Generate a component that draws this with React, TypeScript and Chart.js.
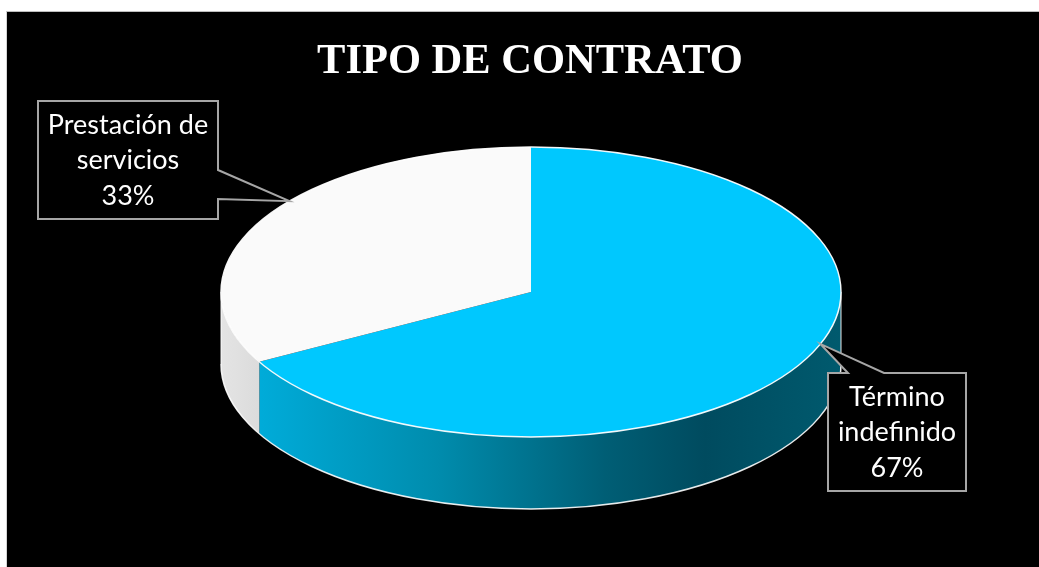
import React, { useEffect, useRef } from 'react';
import { Chart, registerables } from 'chart.js';

Chart.register(...registerables);

// ---- data ----
const TITLE = 'TIPO DE CONTRATO';
const CATEGORIES = ['Término indefinido', 'Prestación de servicios'];
const VALUES = [67, 33];

// ---- styles / layout ----
const TOP_COLORS = ['#00C8FE', '#FAFAFA'];
const SIDE_STOPS: [number, string][][] = [
  [
    [0, '#00B2E2'],
    [0.35, '#008CAD'],
    [0.62, '#005E75'],
    [0.78, '#004B5F'],
    [1, '#005A6E'],
  ],
  [
    [0, '#E4E4E4'],
    [0.1, '#D6D6D6'],
    [1, '#D0D0D0'],
  ],
];
const DEPTH = 72;
const TITLE_FONT = 'bold 42.5px "Liberation Serif"';
const LABEL_FONT = '27px Lato';
const LABEL_LINE = 35.5;
const LABEL_LAYOUT = [
  { x: 828, y: 373, w: 138, h: 118, side: 'top', o0: 20, o1: 56, nudge: -9.6 },
  { x: 38, y: 101, w: 180, h: 118, side: 'right', o0: 69, o1: 98, nudge: 8.2 },
];

function geom(chart: any) {
  const ca = chart.chartArea;
  return {
    ca,
    cx: (ca.left + ca.right) / 2,
    cy: (ca.top + ca.bottom) / 2,
    RX: ca.width / 2,
    RY: ca.height / 2,
  };
}

const pie3d = {
  id: 'pie3d',
  beforeDatasetsDraw(chart: any) {
    const ctx: CanvasRenderingContext2D = chart.ctx;
    const { ca, cx, cy, RX, RY } = geom(chart);
    const meta = chart.getDatasetMeta(0);
    meta.data.forEach((arc: any, i: number) => {
      const { startAngle, endAngle } = arc.getProps(['startAngle', 'endAngle'], true);
      for (const off of [-2 * Math.PI, 0, 2 * Math.PI]) {
        const a0 = Math.max(startAngle, off);
        const a1 = Math.min(endAngle, off + Math.PI);
        if (a1 <= a0) continue;
        ctx.beginPath();
        ctx.ellipse(cx, cy, RX, RY, 0, a0, a1, false);
        ctx.ellipse(cx, cy + DEPTH, RX, RY, 0, a1, a0, true);
        ctx.closePath();
        const g = ctx.createLinearGradient(ca.left, 0, ca.right, 0);
        SIDE_STOPS[i % SIDE_STOPS.length].forEach(([p, c]) => g.addColorStop(p, c));
        ctx.fillStyle = g;
        ctx.fill();
      }
    });
    // side outlines
    ctx.save();
    ctx.strokeStyle = 'rgba(255,255,255,0.9)';
    ctx.lineWidth = 1.5;
    ctx.beginPath();
    ctx.ellipse(cx, cy + DEPTH, RX, RY, 0, 0, Math.PI, false);
    ctx.stroke();
    ctx.lineWidth = 1;
    ctx.beginPath();
    ctx.moveTo(cx + RX, cy);
    ctx.lineTo(cx + RX, cy + DEPTH);
    ctx.moveTo(cx - RX, cy);
    ctx.lineTo(cx - RX, cy + DEPTH);
    ctx.stroke();
    ctx.restore();

    const first = meta.data[0];
    const r = first.outerRadius;
    ctx.save();
    ctx.translate(cx, cy);
    ctx.scale(RX / r, RY / r);
    ctx.translate(-first.x, -first.y);
  },
  afterDatasetsDraw(chart: any) {
    const ctx: CanvasRenderingContext2D = chart.ctx;
    ctx.restore();
    const { cx, cy, RX, RY } = geom(chart);
    ctx.save();
    ctx.strokeStyle = 'rgba(255,255,255,0.95)';
    ctx.lineWidth = 1.5;
    ctx.beginPath();
    ctx.ellipse(cx, cy, RX, RY, 0, 0, Math.PI * 2);
    ctx.stroke();
    ctx.restore();
  },
  afterDraw(chart: any) {
    const ctx: CanvasRenderingContext2D = chart.ctx;
    const { cx, cy, RX, RY } = geom(chart);
    // title
    ctx.save();
    ctx.fillStyle = '#FFFFFF';
    ctx.font = TITLE_FONT;
    ctx.textAlign = 'center';
    ctx.textBaseline = 'alphabetic';
    ctx.fillText(TITLE, cx - 1, 73);
    ctx.restore();

    const total = VALUES.reduce((a, b) => a + b, 0);
    const meta = chart.getDatasetMeta(0);
    meta.data.forEach((arc: any, i: number) => {
      const L = LABEL_LAYOUT[i];
      const { startAngle, endAngle } = arc.getProps(['startAngle', 'endAngle'], true);
      const mid = (startAngle + endAngle) / 2 + (L.nudge * Math.PI) / 180;
      const tx = cx + RX * Math.cos(mid);
      const ty = cy + RY * Math.sin(mid);

      ctx.save();
      ctx.beginPath();
      if (L.side === 'top') {
        ctx.moveTo(L.x, L.y);
        ctx.lineTo(L.x + L.o0, L.y);
        ctx.lineTo(tx, ty);
        ctx.lineTo(L.x + L.o1, L.y);
        ctx.lineTo(L.x + L.w, L.y);
        ctx.lineTo(L.x + L.w, L.y + L.h);
        ctx.lineTo(L.x, L.y + L.h);
      } else {
        ctx.moveTo(L.x, L.y);
        ctx.lineTo(L.x + L.w, L.y);
        ctx.lineTo(L.x + L.w, L.y + L.o0);
        ctx.lineTo(tx, ty);
        ctx.lineTo(L.x + L.w, L.y + L.o1);
        ctx.lineTo(L.x + L.w, L.y + L.h);
        ctx.lineTo(L.x, L.y + L.h);
      }
      ctx.closePath();
      ctx.fillStyle = '#000000';
      ctx.fill();
      ctx.strokeStyle = '#A6A6A6';
      ctx.lineWidth = 2;
      ctx.stroke();

      ctx.font = LABEL_FONT;
      ctx.fillStyle = '#FFFFFF';
      ctx.textAlign = 'center';
      ctx.textBaseline = 'alphabetic';
      const words = CATEGORIES[i].split(' ');
      const lines: string[] = [];
      let cur = '';
      for (const w of words) {
        const test = cur ? cur + ' ' + w : w;
        if (cur && ctx.measureText(test).width > L.w - 10) {
          lines.push(cur);
          cur = w;
        } else cur = test;
      }
      if (cur) lines.push(cur);
      lines.push(Math.round((VALUES[i] / total) * 100) + '%');
      const blockH = (lines.length - 1) * LABEL_LINE;
      const firstBase = L.y + L.h / 2 - blockH / 2 + 9;
      lines.forEach((t, k) => ctx.fillText(t, L.x + L.w / 2, firstBase + k * LABEL_LINE));
      ctx.restore();
    });
  },
};

export default function App() {
  const ref = useRef<HTMLCanvasElement>(null);
  useEffect(() => {
    if (!ref.current) return;
    const chart = new Chart(ref.current, {
      type: 'pie',
      data: {
        labels: CATEGORIES,
        datasets: [
          {
            data: VALUES,
            backgroundColor: TOP_COLORS,
            borderWidth: 0,
            clip: false,
          } as any,
        ],
      },
      options: {
        responsive: false,
        animation: false,
        events: [],
        layout: { padding: { left: 221, right: 198, top: 147, bottom: 130 } },
        plugins: {
          legend: { display: false },
          tooltip: { enabled: false },
          title: { display: false },
        },
      },
      plugins: [pie3d],
    });
    return () => chart.destroy();
  }, []);
  return (
    <div
      style={{
        position: 'fixed',
        left: 0,
        top: 0,
        width: '100vw',
        height: '100vh',
        minWidth: 1039,
        minHeight: 567,
        background: '#FFFFFF',
        overflow: 'hidden',
      }}
    >
      <div
        style={{
          position: 'absolute',
          left: 6,
          top: 11,
          width: 2000,
          height: 1000,
          background: '#000000',
          borderTop: '1px solid #BDBDBD',
          borderLeft: '1px solid #D4D4D4',
        }}
      />
      <canvas
        ref={ref}
        width={1039}
        height={567}
        style={{ position: 'absolute', left: 0, top: 0 }}
      />
    </div>
  );
}
